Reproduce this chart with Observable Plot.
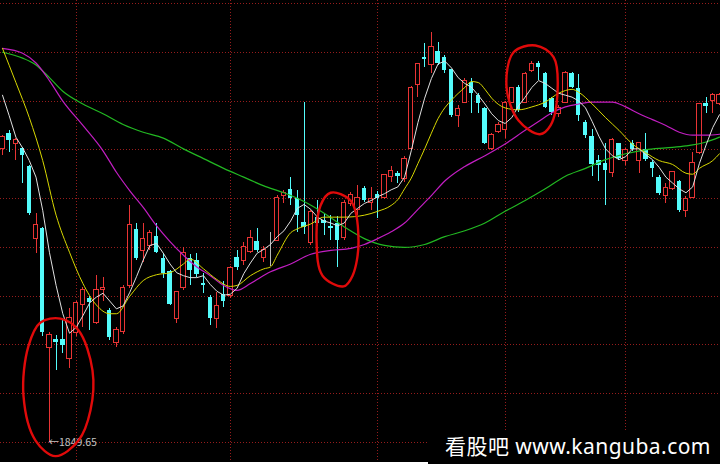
<!DOCTYPE html>
<html>
<head>
<meta charset="utf-8">
<script src="https://cdn.jsdelivr.net/npm/d3@7"></script>
<script src="https://cdn.jsdelivr.net/npm/@observablehq/plot@0.6"></script>
<style>
  html, body { margin: 0; padding: 0; background: #ffffff; }
  #wrap { position: relative; width: 720px; height: 464px; background: #ffffff; overflow: hidden; }
  #chart svg { display: block; }
  #wm { position: absolute; left: 428px; top: 431px; width: 292px; height: 33px; background: #000; }
  #wm span { position: absolute; left: 17px; top: 5px; color: #ffffff; font-family: "Noto Sans", "Noto Sans CJK SC", sans-serif; font-size: 21px; line-height: 1; white-space: nowrap; letter-spacing: 0.45px; }
</style>
</head>
<body>
<div id="wrap">
  <div id="chart"></div>
  <div id="wm"><span>看股吧 www.kanguba.com</span></div>
</div>
<script>
// ---- Daily candles (Shanghai Composite, mid-June to Nov 2013), index = trading day ----
const open = [2151,2167,2156,2151,2133,2059,2069,1947,1956,1956,
  1936,1962,1991,1998,1973,2006,1985,1952,1963,2010,
  2068,2046,2051,2061,2039,2025,1977,2008,2039,2037,
  2013,1999,1977,2002,2000,2040,2036,2045,2056,2039,
  2050,2057,2103,2109,2100,2076,2054,2081,2078,2071,
  2075,2060,2094,2088,2110,2095,2104,2101,2122,2126,
  2120,2151,2216,2245,2237,2251,2245,2232,2185,2198,
  2219,2206,2192,2151,2168,2170,2198,2214,2198,2231,
  2239,2228,2203,2187,2198,2228,2213,2178,2164,2139,
  2136,2126,2156,2139,2157,2139,2150,2137,2122,2103,
  2110,2118,2087,2101,2147,2198,2200,2197];
const high = [2165,2170,2162,2152,2134,2085,2070,1963,1960,1977,
  1987,1995,2009,2000,2021,2019,1987,1968,2011,2093,
  2075,2075,2067,2075,2044,2026,2005,2050,2043,2044,
  2023,2001,2004,2015,2030,2047,2055,2067,2069,2051,
  2065,2103,2108,2122,2108,2199,2088,2098,2084,2083,
  2082,2098,2106,2113,2112,2111,2107,2125,2133,2128,
  2143,2215,2239,2259,2270,2260,2247,2232,2195,2223,
  2223,2208,2193,2167,2178,2200,2214,2216,2229,2241,
  2241,2229,2204,2195,2230,2229,2227,2180,2171,2144,
  2156,2162,2157,2151,2160,2158,2167,2139,2124,2116,
  2128,2119,2102,2147,2198,2204,2208,2208];
const low = [2144,2147,2139,2116,2083,2044,1959,1849.65,1924,1941,
  1926,1959,1968,1965,1971,1995,1955,1947,1961,2008,
  2037,2034,2047,2044,2018,1990,1972,2006,2011,2019,
  2003,1970,1967,1988,1998,2026,2031,2044,2045,2034,
  2030,2056,2095,2093,2065,2063,2052,2071,2062,2057,
  2029,2057,2092,2083,2096,2088,2080,2099,2117,2115,
  2117,2149,2204,2234,2228,2236,2228,2183,2173,2197,
  2187,2187,2155,2149,2167,2162,2197,2188,2197,2229,
  2221,2192,2185,2183,2197,2213,2179,2162,2123,2118,
  2093,2122,2139,2134,2148,2126,2138,2122,2103,2095,
  2108,2086,2081,2100,2145,2187,2187,2195];
const close = [2163,2160,2160,2144,2085,2073,1963,1960,1952,1949,
  1978,1993,2006,1993,2006,2008,1958,1965,2008,2073,
  2039,2059,2065,2045,2023,1991,2004,2044,2026,2022,
  2011,1977,1990,1995,2029,2029,2050,2060,2047,2047,
  2050,2101,2106,2100,2083,2070,2086,2075,2074,2069,
  2057,2095,2104,2101,2098,2100,2100,2124,2128,2123,
  2141,2213,2238,2243,2255,2239,2231,2185,2192,2221,
  2208,2198,2157,2165,2175,2198,2213,2190,2228,2238,
  2234,2193,2188,2193,2229,2214,2185,2165,2135,2134,
  2129,2160,2141,2150,2150,2157,2140,2131,2105,2111,
  2127,2088,2100,2136,2197,2194,2206,2206];

// ---- Moving-average lines ----
const ma5 = [2206,2185,2163,2152,2139,2122,2088,2045,2011,1982,
  1962,1968,1980,1993,1999,2003,1995,1987,1990,2004,
  2020,2037,2052,2054,2044,2033,2024,2021,2019,2019,
  2021,2012,2005,2001,2002,2008,2023,2034,2044,2048,
  2053,2061,2067,2077,2090,2094,2089,2081,2077,2075,
  2072,2075,2085,2090,2095,2098,2102,2105,2109,2112,
  2122,2149,2178,2203,2223,2238,2241,2234,2224,2218,
  2214,2206,2197,2187,2180,2177,2183,2195,2204,2214,
  2221,2218,2213,2208,2206,2204,2200,2193,2179,2164,
  2151,2144,2140,2143,2151,2151,2145,2140,2132,2122,
  2116,2110,2106,2112,2136,2155,2173,2186];
const ma10Idx = [0,2,4,6,8,10,12,14,16,17,19,21,23,25,27,28,30,32,34,35,37,39,40,41,43,44,46,48,51,54,56,58,59,60,61,62,63,64,65,66,67,69,70,71,72,73,75,77,79,81,83,85,86,88,90,92,94,96,98,100,102,103,104,106,107];
const ma10 = [2254,2219,2183,2139,2083,2045,2013,1991,1982,1982,2000,2016,2022,2024,2033,2038,2028,2017,2010,2011,2021,2028,2030,2042,2065,2069,2074,2081,2081,2083,2087,2093,2099,2110,2121,2136,2151,2167,2182,2193,2201,2214,2220,2219,2212,2203,2193,2191,2194,2199,2208,2212,2209,2197,2183,2170,2156,2147,2139,2135,2126,2125,2131,2139,2146];
const ma20Idx = [0,3,5,7,9,12,15,17,19,21,23,25,27,29,31,33,35,37,40,43,46,49,52,54,56,58,60,62,64,66,69,72,75,78,80,82,84,86,88,91,93,95,97,99,101,103,105,107];
const ma20 = [2254,2249,2239,2221,2200,2175,2149,2127,2108,2091,2072,2056,2042,2030,2021,2011,2006,2013,2025,2033,2043,2047,2049,2053,2059,2066,2075,2089,2103,2118,2133,2144,2156,2170,2179,2188,2194,2197,2199,2199,2194,2187,2181,2175,2168,2165,2165,2166];
const ma60Idx = [0,3,5,7,9,12,15,18,21,24,27,30,33,36,39,42,45,48,51,54,57,60,63,66,69,72,75,78,81,84,87,90,93,96,99,102,105,107];
const ma60 = [2250,2244,2237,2224,2210,2197,2187,2176,2168,2162,2151,2141,2131,2122,2113,2106,2097,2085,2071,2059,2052,2050,2053,2061,2067,2075,2087,2098,2110,2123,2131,2140,2146,2150,2152,2154,2158,2163];

// ---- Grid: price levels and month starts (trading-day index) ----
const gridPrices = [1850,1900,1950,2000,2050,2100,2150,2200,2250,2300];
const monthStarts = [11,34,56,75,93];

// ---- Annotations ----
const lowPoint = {i: 7, p: 1849.65};
const circleId = [1,1,1,1,1,1,1,1,1,1, 2,2,2,2,2,2,2,2, 3,3,3,3,3,3,3,3];
const circleIdx = [5.67,8.66,11.34,13.43,13.13,11.34,7.91,4.93,3.13,3.88,
  48.96,51.94,53.13,52.24,50.9,47.76,46.87,47.46,
  79.55,82.24,82.84,81.79,80.2,77.01,75.22,76.27];
const circlePrice = [1973,1977,1965,1924,1883,1852,1836,1852,1898,1949,
  2106,2098,2057,2021,2010,2021,2057,2093,
  2257,2245,2211,2175,2166,2180,2214,2250];

// ---- Build tables ----
const candles = open.map((o, i) => ({i, o, h: high[i], l: low[i], c: close[i]}));
const up = candles.filter(d => d.c > d.o);
const down = candles.filter(d => d.c < d.o);
const flat = candles.filter(d => d.c === d.o);
const series = (idx, vals, name) => vals.map((v, k) => ({i: idx ? idx[k] : k, v, name}));
const ma5Data = series(null, ma5, "MA5");
const ma10Data = series(ma10Idx, ma10, "MA10");
const ma20Data = series(ma20Idx, ma20, "MA20");
const ma60Data = series(ma60Idx, ma60, "MA60");
const circles = circleId.map((id, k) => ({id, i: circleIdx[k], p: circlePrice[k]}));

const RED = "#e83434", CYAN = "#54fcfc", GRID = "#961c1c";
const HW = 0.33; // half body width in trading days

const chart = Plot.plot({
  width: 720,
  height: 462,
  margin: 0,
  style: {background: "#000000"},
  x: {type: "linear", domain: [0, 107], range: [2, 719], axis: null},
  y: {type: "linear", domain: [1850, 2300], range: [442, 3], axis: null},
  marks: [
    Plot.ruleY(gridPrices, {stroke: GRID, strokeDasharray: "1,2", shapeRendering: "crispEdges"}),
    Plot.ruleX(monthStarts, {stroke: GRID, strokeDasharray: "1,2", shapeRendering: "crispEdges"}),
    // wicks
    Plot.ruleX(up, {x: "i", y1: "l", y2: "h", stroke: RED, shapeRendering: "crispEdges"}),
    Plot.ruleX(down, {x: "i", y1: "l", y2: "h", stroke: CYAN, shapeRendering: "crispEdges"}),
    Plot.ruleX(flat, {x: "i", y1: "l", y2: "h", stroke: "#bbbbbb", shapeRendering: "crispEdges"}),
    // bodies
    Plot.rect(up, {x1: d => d.i - HW, x2: d => d.i + HW, y1: "o", y2: "c", fill: "#000", stroke: RED, shapeRendering: "crispEdges"}),
    Plot.rect(down, {x1: d => d.i - HW, x2: d => d.i + HW, y1: "o", y2: "c", fill: CYAN, shapeRendering: "crispEdges"}),
    Plot.rect(flat, {x1: d => d.i - HW, x2: d => d.i + HW, y1: "o", y2: "c", stroke: "#bbbbbb", shapeRendering: "crispEdges"}),
    // moving averages
    Plot.line(ma60Data, {x: "i", y: "v", stroke: "#22b822", strokeWidth: 1.2, curve: "monotone-x"}),
    Plot.line(ma20Data, {x: "i", y: "v", stroke: "#c21ec2", strokeWidth: 1.2, curve: "monotone-x"}),
    Plot.line(ma10Data, {x: "i", y: "v", stroke: "#d8d800", strokeWidth: 1, curve: "monotone-x"}),
    Plot.line(ma5Data, {x: "i", y: "v", stroke: "#e0e0e0", strokeWidth: 1}),
    // low label
    Plot.text([lowPoint], {x: "i", y: "p", text: d => "←" + d.p, textAnchor: "start", dx: -1, fill: "#c4c4c4",
      fontSize: 10.5, fontFamily: "Noto Sans CJK SC, sans-serif"}),
    // hand-drawn circles
    Plot.line(circles, {x: "i", y: "p", z: "id", stroke: "#e00a0a", strokeWidth: 2.4, curve: "catmull-rom-closed"})
  ]
});
document.getElementById("chart").appendChild(chart);
</script>
</body>
</html>
